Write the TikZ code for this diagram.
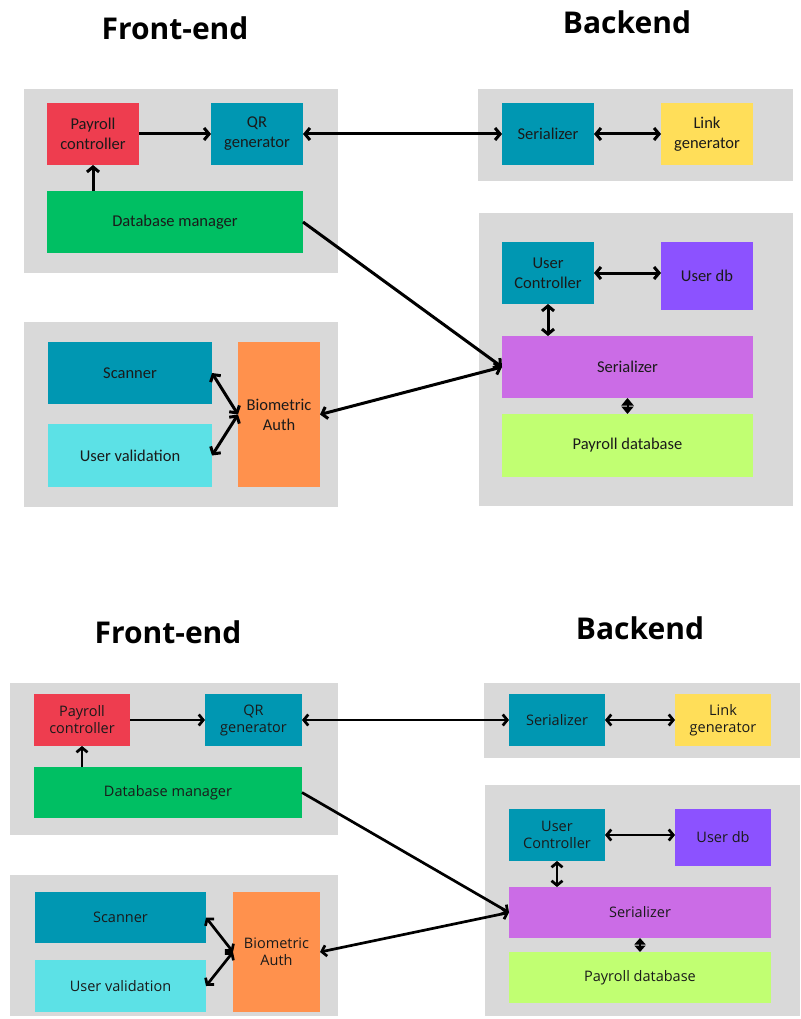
\documentclass[tikz,border=0pt]{standalone}
\usepackage{fontspec}
\setmainfont{Carlito}
\newfontfamily\botfont{Open Sans}
\newfontfamily\ttlfont{Open Sans}
\usetikzlibrary{arrows.meta}
\definecolor{panelgray}{HTML}{D9D9D9}
\definecolor{cred}{HTML}{EE3D4F}
\definecolor{cteal}{HTML}{0097B2}
\definecolor{cgreen}{HTML}{00BF63}
\definecolor{cyellow}{HTML}{FFDE59}
\definecolor{cviolet}{HTML}{8C52FF}
\definecolor{cpurple}{HTML}{CB6CE6}
\definecolor{clime}{HTML}{C1FF72}
\definecolor{ccyan}{HTML}{5CE1E6}
\definecolor{corange}{HTML}{FF914D}
\definecolor{txt}{HTML}{1A1A1A}
\begin{document}
\begin{tikzpicture}[x=1pt,y=-1pt,
  panel/.style={fill=panelgray},
  box/.style={draw=none, inner sep=2pt, outer sep=0pt, anchor=north west, align=center, text=txt},
  topbox/.style={box, font=\fontsize{16.5}{20}\selectfont},
  botbox/.style={box, font=\botfont\fontsize{14.5}{17}\selectfont},
  title/.style={font=\ttlfont\bfseries\fontsize{30}{34}\selectfont, text=black, inner sep=0pt},
  conn/.style={line width=3pt, -{Straight Barb[length=5pt,width=12pt]}},
  biconn/.style={line width=3pt, {Straight Barb[length=5pt,width=12pt]}-{Straight Barb[length=5pt,width=12pt]}},
  bconn/.style={line width=2.7pt, -{Straight Barb[length=4.5pt,width=11pt]}},
  bbiconn/.style={line width=2.7pt, {Straight Barb[length=4.5pt,width=11pt]}-{Straight Barb[length=4.5pt,width=11pt]}},
  dia/.style={line width=2pt, {Triangle[length=7.5pt,width=12pt]}-{Triangle[length=7.5pt,width=12pt]}},
  bdia/.style={line width=2pt, {Triangle[length=6.5pt,width=11pt]}-{Triangle[length=6.5pt,width=11pt]}}
]
\useasboundingbox (0,0) rectangle (800,1019);

% ================= TOP DIAGRAM =================
\node[title] (t1f) at (175,28) {Front-end};
\node[title] (t1b) at (627,22) {Backend};

\fill[panel] (24,89) rectangle (338,273);
\fill[panel] (478,89) rectangle (793,181);
\fill[panel] (24,322) rectangle (338,507);
\fill[panel] (479,213) rectangle (793,506);

\node[topbox, fill=cred, minimum width=92pt, minimum height=62pt] (pc) at (47,103) {Payroll\\controller};
\node[topbox, fill=cteal, minimum width=92pt, minimum height=62pt] (qr) at (211,103) {QR\\generator};
\node[topbox, fill=cgreen, minimum width=256pt, minimum height=62pt] (dbm) at (47,191) {Database manager};
\node[topbox, fill=cteal, minimum width=92pt, minimum height=62pt] (sera) at (502,103) {Serializer};
\node[topbox, fill=cyellow, minimum width=92pt, minimum height=62pt] (lg) at (661,103) {Link\\generator};
\node[topbox, fill=cteal, minimum width=92pt, minimum height=62pt] (uc) at (502,242) {User\\Controller};
\node[topbox, fill=cviolet, minimum width=92pt, minimum height=68pt] (udb) at (661,242) {User db};
\node[topbox, fill=cpurple, minimum width=251pt, minimum height=62pt] (serb) at (502,336) {Serializer};
\node[topbox, fill=clime, minimum width=251pt, minimum height=63pt] (pdb) at (502,414) {Payroll database};
\node[topbox, fill=cteal, minimum width=164pt, minimum height=62pt] (scan) at (48,342) {Scanner};
\node[topbox, fill=ccyan, minimum width=164pt, minimum height=63pt] (uv) at (48,424) {User validation};
\node[topbox, fill=corange, minimum width=82pt, minimum height=145pt] (bio) at (238,342) {Biometric\\Auth};

\draw[conn] (pc.east) -- (qr.west);
\draw[conn] (pc.south |- dbm.north) -- (pc.south);
\draw[biconn] (qr.east) -- (sera.west);
\draw[biconn] (sera.east) -- (lg.west);
\draw[biconn] (uc.east) -- (uc.east -| udb.west);
\draw[biconn] (uc.south) -- (uc.south |- serb.north);
\draw[dia] (serb.south) -- (pdb.north);
\draw[conn] (dbm.east) -- (serb.west);
\draw[biconn] (bio.east) -- (serb.west);
\draw[biconn] (bio.west) -- (scan.east);
\draw[biconn] (bio.west) -- (uv.east);

% ================= BOTTOM DIAGRAM =================
\node[title] (t2f) at (168,632) {Front-end};
\node[title] (t2b) at (640,628) {Backend};

\fill[panel] (10,683) rectangle (338,835);
\fill[panel] (484,683) rectangle (800,758);
\fill[panel] (10,875) rectangle (338,1016);
\fill[panel] (485,785) rectangle (800,1016);

\node[botbox, fill=cred, minimum width=96pt, minimum height=52pt] (pc2) at (34,694) {Payroll\\controller};
\node[botbox, fill=cteal, minimum width=97pt, minimum height=52pt] (qr2) at (205,694) {QR\\generator};
\node[botbox, fill=cgreen, minimum width=268pt, minimum height=51pt] (dbm2) at (34,767) {Database manager};
\node[botbox, fill=cteal, minimum width=96pt, minimum height=52pt] (sera2) at (509,694) {Serializer};
\node[botbox, fill=cyellow, minimum width=96pt, minimum height=52pt] (lg2) at (675,694) {Link\\generator};
\node[botbox, fill=cteal, minimum width=96pt, minimum height=52pt] (uc2) at (509,809) {User\\Controller};
\node[botbox, fill=cviolet, minimum width=96pt, minimum height=57pt] (udb2) at (675,809) {User db};
\node[botbox, fill=cpurple, minimum width=262pt, minimum height=51pt] (serb2) at (509,887) {Serializer};
\node[botbox, fill=clime, minimum width=262pt, minimum height=51pt] (pdb2) at (509,952) {Payroll database};
\node[botbox, fill=cteal, minimum width=171pt, minimum height=51pt] (scan2) at (35,892) {Scanner};
\node[botbox, fill=ccyan, minimum width=171pt, minimum height=52pt] (uv2) at (35,960) {User validation};
\node[botbox, fill=corange, minimum width=87pt, minimum height=120pt] (bio2) at (233,892) {Biometric\\Auth};

\draw[bconn] (pc2.east) -- (qr2.west);
\draw[bconn] (pc2.south |- dbm2.north) -- (pc2.south);
\draw[bbiconn] (qr2.east) -- (sera2.west);
\draw[bbiconn] (sera2.east) -- (lg2.west);
\draw[bbiconn] (uc2.east) -- (uc2.east -| udb2.west);
\draw[bbiconn] (uc2.south) -- (uc2.south |- serb2.north);
\draw[bdia] (serb2.south) -- (pdb2.north);
\draw[bconn] (dbm2.east) -- (serb2.west);
\draw[bbiconn] (bio2.east) -- (serb2.west);
\draw[bbiconn] (bio2.west) -- (scan2.east);
\draw[bbiconn] (bio2.west) -- (uv2.east);
\end{tikzpicture}
\end{document}
